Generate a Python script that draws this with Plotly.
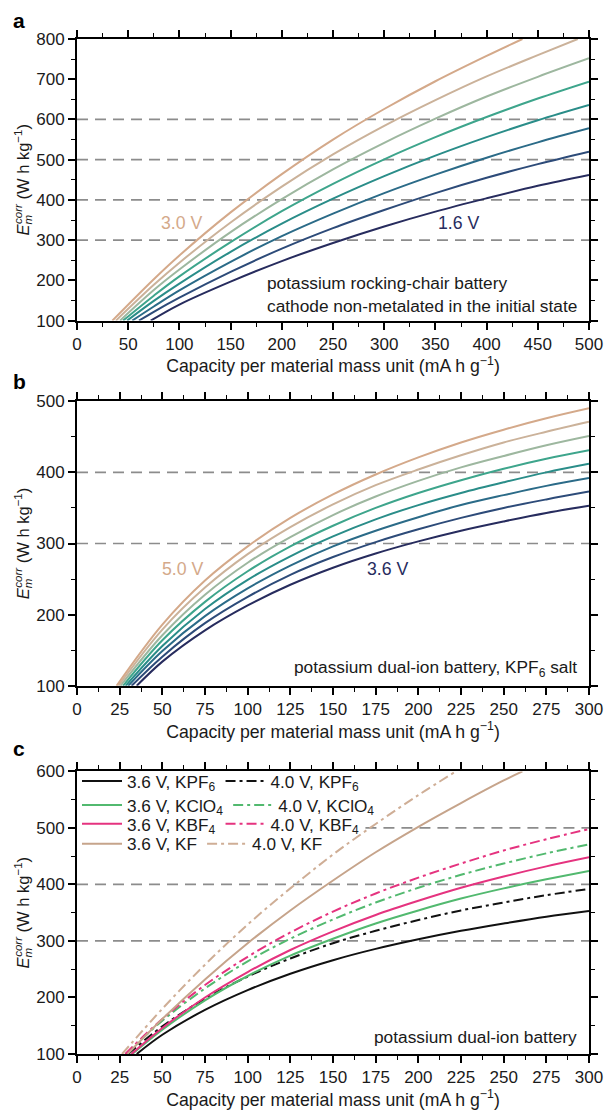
import plotly.graph_objects as go

FONT = "Liberation Sans, Arial, sans-serif"

# ---------------- Panel a: rocking-chair battery ----------------
A_LABELS = ["1.6 V", "1.8 V", "2.0 V", "2.2 V", "2.4 V", "2.6 V", "2.8 V", "3.0 V"]
A_COLORS = ["#272c5e", "#2d4b79", "#2b6b88", "#2a8d89", "#3ea58c", "#9db79f", "#cbb29a", "#d4a98a"]
A_X = [
    [72, 100, 150, 200, 250, 300, 350, 400, 450, 500],
    [60.5, 75, 100, 150, 200, 250, 300, 350, 400, 450, 500],
    [54, 75, 100, 150, 200, 250, 300, 350, 400, 450, 500],
    [49, 75, 100, 150, 200, 250, 300, 350, 400, 450, 500],
    [45, 75, 100, 150, 200, 250, 300, 350, 400, 450, 500],
    [42, 75, 100, 150, 200, 250, 300, 350, 400, 450, 500],
    [38, 75, 100, 150, 200, 250, 300, 350, 400, 450, 489],
    [34.5, 75, 100, 150, 200, 250, 300, 350, 400, 435],
]
A_Y = [
    [100, 140, 197, 248, 293, 334, 371, 404, 435, 462],
    [100, 122, 157, 221, 279, 330, 375, 417, 455, 489, 520],
    [100, 135, 175, 246, 310, 366, 417, 463, 505, 543, 578],
    [100, 149, 192, 271, 341, 403, 459, 510, 556, 598, 636],
    [100, 162, 210, 295, 372, 440, 501, 556, 606, 652, 694],
    [100, 176, 227, 320, 402, 476, 542, 602, 657, 706, 752],
    [100, 189, 244, 344, 433, 513, 584, 648, 707, 760, 800],
    [100, 203, 262, 369, 464, 550, 626, 695, 758, 800],
]
A_REF = [300, 400, 500, 600]

# ---------------- Panel b: dual-ion battery, KPF6 ----------------
B_LABELS = ["3.6 V", "3.8 V", "4.0 V", "4.2 V", "4.4 V", "4.6 V", "4.8 V", "5.0 V"]
B_COLORS = A_COLORS
B_START = [35, 32, 30, 28.5, 27, 25.5, 24.3, 23.2]
B_XGRID = [50, 75, 100, 125, 150, 175, 200, 225, 250, 275, 300]
B_Y = [
    [134, 178, 213, 242, 266, 286, 303, 318, 331, 343, 353],
    [141, 188, 225, 256, 281, 302, 320, 336, 350, 362, 373],
    [149, 198, 237, 269, 296, 318, 337, 354, 368, 381, 392],
    [156, 208, 249, 282, 310, 334, 354, 371, 386, 400, 412],
    [164, 218, 261, 296, 325, 350, 371, 389, 405, 419, 431],
    [171, 228, 273, 309, 340, 366, 388, 407, 423, 438, 451],
    [179, 238, 285, 323, 355, 382, 404, 424, 442, 457, 471],
    [186, 248, 296, 336, 369, 397, 421, 442, 460, 476, 490],
]
B_REF = [300, 400]

# ---------------- Panel c: dual-ion battery, several salts ----------------
C_NAMES = ["3.6 V, KPF<sub>6</sub>", "4.0 V, KPF<sub>6</sub>",
           "3.6 V, KClO<sub>4</sub>", "4.0 V, KClO<sub>4</sub>",
           "3.6 V, KBF<sub>4</sub>", "4.0 V, KBF<sub>4</sub>",
           "3.6 V, KF", "4.0 V, KF"]
C_COLORS = ["#111111", "#111111", "#52b96f", "#52b96f",
            "#e5337f", "#e5337f", "#c6a48b", "#cfae96"]
C_DASH = ["solid", "dashdot", "solid", "dashdot", "solid", "dashdot", "solid", "dashdot"]
C_X = [
    [35, 50, 75, 100, 125, 150, 175, 200, 225, 250, 275, 300],
    [30, 50, 75, 100, 125, 150, 175, 200, 225, 250, 275, 300],
    [32.4, 50, 75, 100, 125, 150, 175, 200, 225, 250, 275, 300],
    [28.7, 50, 75, 100, 125, 150, 175, 200, 225, 250, 275, 300],
    [31.9, 50, 75, 100, 125, 150, 175, 200, 225, 250, 275, 300],
    [28.3, 50, 75, 100, 125, 150, 175, 200, 225, 250, 275, 300],
    [29.6, 50, 75, 100, 125, 150, 175, 200, 225, 250, 261],
    [26.4, 50, 75, 100, 125, 150, 175, 200, 222],
]
C_Y = [
    [100, 134, 178, 213, 242, 266, 286, 303, 318, 331, 343, 353],
    [100, 149, 198, 237, 269, 296, 318, 337, 354, 368, 381, 392],
    [100, 143, 195, 238, 274, 304, 331, 354, 375, 393, 409, 424],
    [100, 159, 216, 264, 304, 338, 368, 394, 417, 437, 455, 471],
    [100, 146, 200, 245, 284, 317, 346, 371, 394, 414, 432, 448],
    [100, 162, 222, 272, 315, 352, 384, 412, 437, 460, 480, 498],
    [100, 162, 232, 296, 354, 407, 457, 502, 544, 584, 600],
    [100, 180, 258, 329, 393, 453, 507, 558, 600],
]
C_LEGEND = ["legend", "legend", "legend2", "legend2", "legend3", "legend3", "legend4", "legend4"]
C_REF = [300, 400, 500]
C_REF_START = [0, 0, 169]   # the 500 line is hidden behind the legend on the left

fig = go.Figure()

for xs, ys, name, col in zip(A_X, A_Y, A_LABELS, A_COLORS):
    fig.add_trace(go.Scatter(x=xs, y=ys, name=name, mode="lines", line_shape="spline",
                             line=dict(color=col, width=2), showlegend=False,
                             xaxis="x", yaxis="y"))

for st, ys, name, col in zip(B_START, B_Y, B_LABELS, B_COLORS):
    fig.add_trace(go.Scatter(x=[st] + B_XGRID, y=[100] + ys, name=name, mode="lines",
                             line_shape="spline", line=dict(color=col, width=2),
                             showlegend=False, xaxis="x2", yaxis="y2"))

for xs, ys, name, col, dash, lg in zip(C_X, C_Y, C_NAMES, C_COLORS, C_DASH, C_LEGEND):
    d = "10px,4px,3px,4px" if dash == "dashdot" else "solid"
    fig.add_trace(go.Scatter(x=xs, y=ys, name=name, mode="lines", line_shape="spline",
                             line=dict(color=col, width=2, dash=d),
                             legend=lg, xaxis="x3", yaxis="y3"))

REF_DASH = dict(color="#8c8c8c", width=1.7, dash="11px,7px")
shapes = []
for lv in A_REF:
    shapes.append(dict(type="line", xref="x domain", yref="y", x0=0, x1=1, y0=lv, y1=lv,
                       layer="below", line=REF_DASH))
for lv in B_REF:
    shapes.append(dict(type="line", xref="x2 domain", yref="y2", x0=0, x1=1, y0=lv, y1=lv,
                       layer="below", line=REF_DASH))
for lv, st in zip(C_REF, C_REF_START):
    shapes.append(dict(type="line", xref="x3", yref="y3", x0=st, x1=300, y0=lv, y1=lv,
                       layer="below", line=REF_DASH))

tickfont = dict(family=FONT, size=17, color="#1a1a1a")
titlefont = dict(family=FONT, size=17.7, color="#1a1a1a")
ytitlefont = dict(family=FONT, size=16.5, color="#1a1a1a")
xtitle = "Capacity per material mass unit (mA h g<sup>−1</sup>)"
ytitle = ("<i>E</i><sub><span style='letter-spacing:-9px'><i>m</i></span></sub>"
          "<sup><i>corr</i></sup> (W h kg<sup>−1</sup>)")


def xax(rng, dt, mdt, anchor):
    return dict(range=rng, dtick=dt, tick0=0, anchor=anchor, showline=True, linewidth=1.8,
                linecolor="black", mirror="ticks", ticks="outside", ticklen=7, tickwidth=1.6,
                tickcolor="black", minor=dict(dtick=mdt, ticks="outside", ticklen=4,
                                              tickwidth=1.4, tickcolor="black"),
                showgrid=False, zeroline=False, tickfont=tickfont,
                title=dict(text=xtitle, font=titlefont, standoff=6))


def yax(rng, domain, anchor):
    return dict(range=rng, dtick=100, tick0=0, domain=domain, anchor=anchor, showline=True,
                linewidth=1.8, linecolor="black", mirror="ticks", ticks="outside", ticklen=7,
                tickwidth=1.6, tickcolor="black",
                minor=dict(dtick=50, ticks="outside", ticklen=4, tickwidth=1.4,
                           tickcolor="black"),
                showgrid=False, zeroline=False, tickfont=tickfont,
                title=dict(text=ytitle, font=ytitlefont, standoff=3))


legend_common = dict(orientation="h", xanchor="left", yanchor="middle",
                     bgcolor="rgba(255,255,255,0)", borderwidth=0,
                     font=dict(family=FONT, size=17.2, color="#1a1a1a"),
                     itemwidth=40, traceorder="normal", tracegroupgap=0,
                     itemclick=False, itemdoubleclick=False)
ROW_Y = [0.2686, 0.2451, 0.2265, 0.2069]

TXT = dict(family=FONT, size=17.3, color="#1a1a1a")
annotations = [
    dict(text="<b>a</b>", xref="paper", yref="paper", x=-0.113, y=1.0186, xanchor="center",
         yanchor="middle", showarrow=False, font=dict(family=FONT, size=21, color="black")),
    dict(text="<b>b</b>", xref="paper", yref="paper", x=-0.113, y=0.6627, xanchor="center",
         yanchor="middle", showarrow=False, font=dict(family=FONT, size=21, color="black")),
    dict(text="<b>c</b>", xref="paper", yref="paper", x=-0.113, y=0.301, xanchor="center",
         yanchor="middle", showarrow=False, font=dict(family=FONT, size=21, color="black")),
    dict(text="3.0 V", xref="x", yref="y", x=103, y=342, showarrow=False,
         font=dict(family=FONT, size=17.7, color=A_COLORS[-1])),
    dict(text="1.6 V", xref="x", yref="y", x=373, y=342, showarrow=False,
         font=dict(family=FONT, size=17.7, color=A_COLORS[0])),
    dict(text="potassium rocking-chair battery", xref="x", yref="y", x=185, y=194,
         xanchor="left", showarrow=False, borderpad=0, font=TXT),
    dict(text="cathode non-metalated in the initial state", xref="x", yref="y", x=185, y=137,
         xanchor="left", showarrow=False, borderpad=0, font=TXT),
    dict(text="5.0 V", xref="x2", yref="y2", x=62, y=264, showarrow=False,
         font=dict(family=FONT, size=17.7, color=B_COLORS[-1])),
    dict(text="3.6 V", xref="x2", yref="y2", x=182, y=264, showarrow=False,
         font=dict(family=FONT, size=17.7, color=B_COLORS[0])),
    dict(text="potassium dual-ion battery, KPF<sub>6</sub> salt", xref="x2", yref="y2",
         x=294.2, y=124, xanchor="right", showarrow=False, font=TXT),
    dict(text="potassium dual-ion battery", xref="x3", yref="y3", x=294.2, y=130,
         xanchor="right", showarrow=False, font=TXT),
]

fig.update_layout(
    width=615, height=1118,
    margin=dict(l=77, r=17, t=39, b=59),
    paper_bgcolor="white", plot_bgcolor="white",
    font=dict(family=FONT, size=16, color="#1a1a1a"),
    xaxis=xax([0, 500], 50, 25, "y"),
    yaxis=yax([100, 800], [0.72255, 1.0], "x"),
    xaxis2=xax([0, 300], 25, 12.5, "y2"),
    yaxis2=yax([100, 500], [0.36275, 0.64314], "x2"),
    xaxis3=xax([0, 300], 25, 12.5, "y3"),
    yaxis3=yax([100, 600], [0.0, 0.27843], "x3"),
    shapes=shapes,
    annotations=annotations,
    showlegend=True,
    legend=dict(legend_common, x=0.0, y=ROW_Y[0]),
    legend2=dict(legend_common, x=0.0, y=ROW_Y[1]),
    legend3=dict(legend_common, x=0.0, y=ROW_Y[2]),
    legend4=dict(legend_common, x=0.0, y=ROW_Y[3]),
)

fig.write_html("out.html")
